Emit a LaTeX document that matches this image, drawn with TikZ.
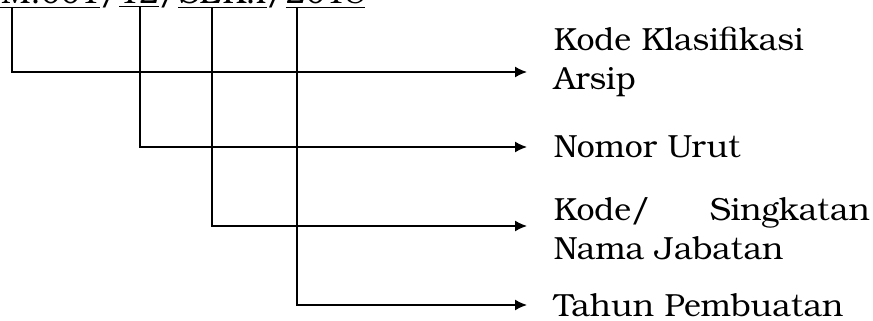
\documentclass[tikz,border=0pt]{standalone}
\usepackage{fontspec}
\setmainfont{TeX Gyre Bonum}
\usetikzlibrary{arrows.meta}

\begin{document}
\begin{tikzpicture}
                    [x=0.5pt, y=0.5pt, line width=0.75pt,
                     >={Latex[length=6pt,width=5.5pt]},
                     every node/.style={font=\fontsize{16}{19.5}\selectfont, inner sep=0pt},
                     keterangan/.style={anchor=west, text width=158pt, align=left}]
                    \useasboundingbox (0,0) rectangle (873,321);
                    \node[anchor=base east] (nomor) at (366,317) {\underline{UM.001}/\underline{12}/\underline{SEK.I}/\underline{2018}};
                    \coordinate (a) at (12,314);
                    \coordinate (b) at (140,314);
                    \coordinate (c) at (212,314);
                    \coordinate (d) at (297,314);
                    \node[keterangan] (klas) at (553,259) {Kode Klasifikasi\\Arsip};
                    \node[keterangan] (urut) at (553,174) {Nomor Urut};
                    \node[keterangan] (jab) at (553,92) {Kode/\hfill Singkatan\\Nama Jabatan};
                    \node[keterangan] (tahun) at (553,16) {Tahun Pembuatan};
                    \draw[->] (a) |- ([xshift=-13pt,yshift=-5pt]klas.west);
                    \draw[->] (b) |- ([xshift=-13pt]urut.west);
                    \draw[->] (c) |- ([xshift=-13pt,yshift=1.5pt]jab.west);
                    \draw[->] (d) |- ([xshift=-13pt]tahun.west);
                \end{tikzpicture}
\end{document}
